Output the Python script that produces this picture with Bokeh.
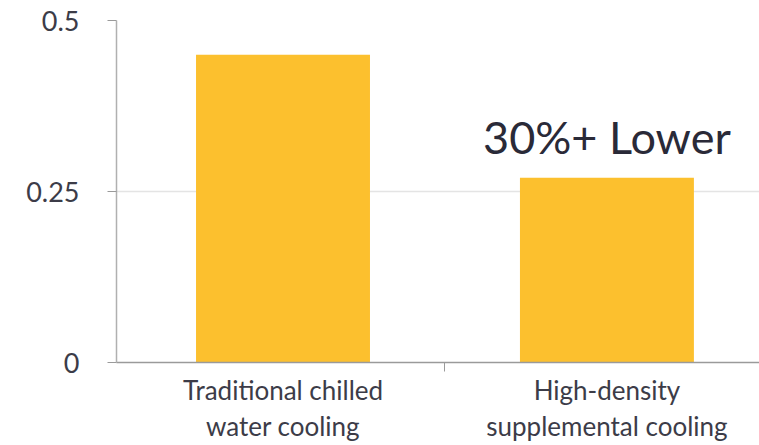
from bokeh.plotting import figure
from bokeh.models import FixedTicker, ColumnDataSource, Range1d
from bokeh.core.properties import value
from bokeh.embed import file_html
from bokeh.resources import INLINE

categories = ["Traditional chilled\nwater cooling", "High-density\nsupplemental cooling"]
positions = [0.5, 1.5]
values = [0.45, 0.27]
y_ticks = [0, 0.25, 0.5]
y_tick_labels = ["0", "0.25", "0.5"]
note_text = ["30%+ Lower"]
note_x = [1.5]
note_y = [0.33]

FONT = "Lato"
BAR = "#FCC02E"

p = figure(width=759, height=445, output_backend="svg", toolbar_location=None,
           x_range=Range1d(-0.014, 1.971), y_range=Range1d(0, 0.5),
           min_border_left=116, min_border_right=0, min_border_top=20,
           min_border_bottom=0)
p.outline_line_color = None
p.background_fill_color = "white"
p.border_fill_color = "white"

src = ColumnDataSource(dict(x=positions, top=values))
p.vbar(x="x", top="top", width=0.537, bottom=0, source=src,
       fill_color=BAR, line_color=None)

p.text(x=note_x, y=note_y, text=note_text, text_font=value(FONT),
       text_font_size="45px", text_color="#2a2a38", text_align="center",
       text_baseline="alphabetic")

# x axis
p.xaxis.ticker = FixedTicker(ticks=positions, minor_ticks=[1.0])
p.xaxis.major_label_overrides = {pos: lab for pos, lab in zip(positions, categories)}
p.xaxis.major_tick_out = 0
p.xaxis.major_tick_in = 0
p.xaxis.minor_tick_out = 9
p.xaxis.minor_tick_in = 0
p.xaxis.minor_tick_line_color = "#9a9a9a"
p.xaxis.axis_line_color = "#9a9a9a"
p.xaxis.axis_line_width = 1.5
p.xaxis.major_label_text_font = FONT
p.xaxis.major_label_text_font_size = "26px"
p.xaxis.major_label_text_color = "#3c3c48"
p.xaxis.major_label_text_line_height = 1.15
p.xaxis.major_label_standoff = 2

# y axis
p.yaxis.ticker = FixedTicker(ticks=y_ticks)
p.yaxis.major_label_overrides = {t: l for t, l in zip(y_ticks, y_tick_labels)}
p.yaxis.major_tick_out = 9
p.yaxis.major_tick_in = 0
p.yaxis.major_tick_line_color = "#9a9a9a"
p.yaxis.minor_tick_line_color = None
p.yaxis.axis_line_color = "#b0b0b0"
p.yaxis.axis_line_width = 1.5
p.yaxis.major_label_text_font = FONT
p.yaxis.major_label_text_font_size = "27px"
p.yaxis.major_label_text_color = "#3c3c48"
p.yaxis.major_label_standoff = 28

p.xgrid.grid_line_color = None
p.ygrid.ticker = FixedTicker(ticks=[0.25])
p.ygrid.grid_line_color = "#e4e4e4"
p.ygrid.grid_line_width = 1.5

open("out.html", "w").write(file_html(p, INLINE))
